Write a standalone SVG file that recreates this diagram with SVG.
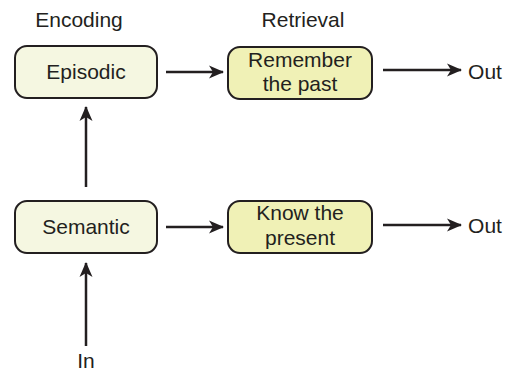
<svg xmlns="http://www.w3.org/2000/svg" width="510" height="372" viewBox="0 0 510 372">
<style>
text{font-family:"Liberation Sans",Arial,sans-serif;font-size:21px;fill:#231f20;text-anchor:middle}
.enc{fill:#f5f7e1;stroke:#231f20;stroke-width:2}
.ret{fill:#f0f1b6;stroke:#231f20;stroke-width:2}
.c{stroke:#231f20;stroke-width:2.5;fill:none;marker-end:url(#ah)}
</style>
<defs>
<marker id="ah" markerWidth="16" markerHeight="14" refX="14" refY="7" orient="auto" markerUnits="userSpaceOnUse">
<path d="M0,0.5 L15,7 L0,13.5 L4,7 Z" fill="#231f20"/>
</marker>
</defs>
<text x="79" y="27">Encoding</text>
<text x="303" y="27">Retrieval</text>
<g id="episodic"><rect class="enc" x="15" y="46" width="142" height="52" rx="12"/><text x="86" y="79">Episodic</text></g>
<g id="semantic"><rect class="enc" x="15" y="201" width="142" height="52" rx="12"/><text x="86" y="234">Semantic</text></g>
<g id="remember"><rect class="ret" x="228" y="47" width="144" height="52" rx="12"/><text x="300" y="67">Remember</text><text x="300" y="91">the past</text></g>
<g id="know"><rect class="ret" x="228" y="201" width="144" height="52" rx="12"/><text x="300" y="220">Know the</text><text x="300" y="245">present</text></g>
<g id="out1"><text x="485" y="79">Out</text></g>
<g id="out2"><text x="485" y="233">Out</text></g>
<g id="in"><text x="86" y="368">In</text></g>
<g id="connectors">
<path class="c" d="M166,72 H223"/>
<path class="c" d="M383,70 H461"/>
<path class="c" d="M166,227 H223"/>
<path class="c" d="M383,225 H461"/>
<path class="c" d="M86,187 V107"/>
<path class="c" d="M86,346 V263"/>
</g>
</svg>
